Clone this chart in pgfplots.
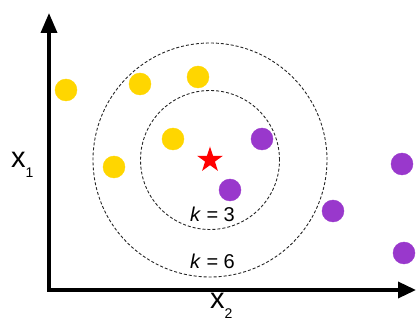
\documentclass[border=0pt]{standalone}
\usepackage{pgfplots}
\pgfplotsset{compat=1.18}
\usepackage{fontspec}
\setmainfont{Liberation Sans}
\usetikzlibrary{arrows.meta}

\definecolor{dotyellow}{RGB}{255,214,0}
\definecolor{dotpurple}{RGB}{153,56,204}

% filled five-pointed star
\pgfdeclareplotmark{fstar}{%
  \pgfpathmoveto{\pgfqpointpolar{90}{\pgfplotmarksize}}%
  \pgfpathlineto{\pgfqpointpolar{126}{0.382\pgfplotmarksize}}%
  \pgfpathlineto{\pgfqpointpolar{162}{\pgfplotmarksize}}%
  \pgfpathlineto{\pgfqpointpolar{198}{0.382\pgfplotmarksize}}%
  \pgfpathlineto{\pgfqpointpolar{234}{\pgfplotmarksize}}%
  \pgfpathlineto{\pgfqpointpolar{270}{0.382\pgfplotmarksize}}%
  \pgfpathlineto{\pgfqpointpolar{306}{\pgfplotmarksize}}%
  \pgfpathlineto{\pgfqpointpolar{342}{0.382\pgfplotmarksize}}%
  \pgfpathlineto{\pgfqpointpolar{18}{\pgfplotmarksize}}%
  \pgfpathlineto{\pgfqpointpolar{54}{0.382\pgfplotmarksize}}%
  \pgfpathclose
  \pgfusepathqfill}

\begin{document}
\begin{tikzpicture}
\begin{axis}[
    x=1pt, y=1pt,
    xmin=0, xmax=416, ymin=0, ymax=327,
    hide axis,
    clip=false,
]

% the two neighbourhoods
\draw[black!85, line width=0.9pt, dash pattern=on 3pt off 2pt] (axis cs:210,167) circle[radius=69.5pt];
\draw[black!85, line width=0.9pt, dash pattern=on 3pt off 2pt] (axis cs:210,167) circle[radius=117pt];

% class A (yellow)
\addplot[only marks, mark=*, mark size=11pt, color=dotyellow] coordinates {
    (66,237) (140,243) (198,250) (173,188) (114,160)
};

% class B (purple)
\addplot[only marks, mark=*, mark size=11pt, color=dotpurple] coordinates {
    (262,188) (230,137) (333,116) (402,163) (404,74)
};

% query point
\addplot[only marks, mark=fstar, mark size=13.5pt, color=red] coordinates {
    (210,167)
};

% axes with arrows
\draw[line width=3.5pt, -{Triangle[length=20pt,width=16pt]}] (axis cs:49,35.25) -- (axis cs:49,314);
\draw[line width=3.5pt, -{Triangle[length=18pt,width=16pt]}] (axis cs:47.25,37) -- (axis cs:416,37);

% labels
\node[anchor=base west, inner sep=0pt] at (axis cs:11,159)
    {\fontsize{29}{32}\selectfont x\raisebox{-10pt}{\fontsize{14}{16}\selectfont 1}};
\node[anchor=base west, inner sep=0pt] at (axis cs:210,18)
    {\fontsize{29}{32}\selectfont x\raisebox{-10pt}{\fontsize{14}{16}\selectfont 2}};
\node[anchor=base, inner sep=0pt] at (axis cs:212.5,105)
    {\fontsize{20}{22}\selectfont \textit{k} = 3};
\node[anchor=base, inner sep=0pt] at (axis cs:212.5,58)
    {\fontsize{20}{22}\selectfont \textit{k} = 6};
\end{axis}
\pgfresetboundingbox
\path (0,0) rectangle (416pt,327pt);
\end{tikzpicture}
\end{document}
